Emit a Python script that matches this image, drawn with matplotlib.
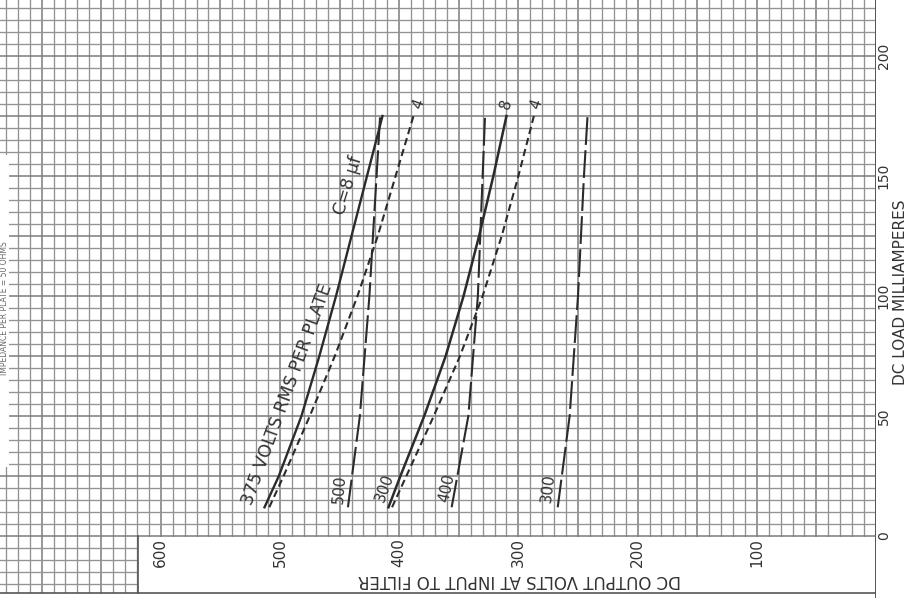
import matplotlib
matplotlib.use("Agg")
import matplotlib.pyplot as plt
from matplotlib.patches import Rectangle

plt.rcParams["lines.scale_dashes"] = False

# load current, mA (capacitor input curves)
ma = [12, 25, 50, 75, 100, 125, 150, 175]
cap375_8uf = [513, 501, 482, 467, 453, 440, 427, 414]
cap375_4uf = [509, 497, 475, 454, 435, 418, 403, 388]
cap300_8uf = [409, 399, 379, 361, 346, 333, 321, 310]
cap300_4uf = [406, 394, 371, 349, 330, 314, 300, 287]

# choke input curves
ma_choke = [12, 50, 100, 150, 175]
choke500 = [443, 433, 425, 419, 416]
choke400 = [356, 342, 334, 330, 328]
choke300 = [267, 257, 250, 245, 242]

volt_ticks = [600, 500, 400, 300, 200, 100]
ma_ticks = [0, 50, 100, 150, 200]

ink = "#2b2b2b"
short = (0, (5.2, 3.0))
long_ = (0, (20, 3.8))

fig = plt.figure(figsize=(9.07, 5.98), dpi=100)
ax = fig.add_axes([0, 0, 876 / 907, 1])
ax.set_xlim(734.9, 0)
ax.set_ylim(-25.8, 223.3)
ax.set_axis_off()

# graph paper
for v in range(0, 740, 10):
    major = v % 50 == 0
    ax.axvline(v, color="#7c7c7c" if major else "#939393",
               lw=1.1 if major else 0.95, zorder=1)
for m in range(-25, 225, 5):
    major = m % 25 == 0
    ax.axhline(m, color="#7c7c7c" if major else "#939393",
               lw=1.1 if major else 0.95, zorder=1)

# label box at the bottom and blank margins
box_left = (876 - 138) / 1.192
ax.add_patch(Rectangle((0, -30), box_left, 29.7, facecolor="white",
                       edgecolor="none", zorder=2))
ax.add_patch(Rectangle((0, -30), 740, 30 - 23.75, facecolor="white",
                       edgecolor="none", zorder=2))
ax.plot([box_left, box_left], [-23.75, 0], color="#555555", lw=1.2, zorder=3)
ax.plot([0, 740], [-23.75, -23.75], color="#555555", lw=1.2, zorder=3)
ax.axvline(0, color="#555555", lw=1.4, zorder=3)
ax.add_patch(Rectangle((727.3, 28.7), 10, 130, facecolor="white",
                       edgecolor="none", zorder=2))
ax.text(731.5, 95, "IMPEDANCE PER PLATE = 50 OHMS", rotation=90,
        ha="center", va="center", fontsize=5.5, color="#666666", zorder=3)

# curves
ax.plot(cap375_8uf, ma, color=ink, lw=1.7, zorder=4)
ax.plot(cap375_4uf, ma, color=ink, lw=1.5, ls=short, zorder=4)
ax.plot(cap300_8uf, ma, color=ink, lw=1.8, zorder=4)
ax.plot(cap300_4uf, ma, color=ink, lw=1.5, ls=short, zorder=4)
ax.plot(choke500, ma_choke, color=ink, lw=1.5, ls=long_, zorder=4)
ax.plot(choke400, ma_choke, color=ink, lw=1.5, ls=long_, zorder=4)
ax.plot(choke300, ma_choke, color=ink, lw=1.5, ls=long_, zorder=4)

tk = dict(color="#333333", zorder=5)
ax.text(520, 12, "375 VOLTS RMS PER PLATE", rotation=70, rotation_mode="anchor",
        ha="left", va="bottom", fontsize=12.5, **tk)
ax.text(443, 133, "C=8 µf", rotation=73, rotation_mode="anchor",
        ha="left", va="bottom", fontsize=12.5, **tk)
ax.text(384, 180, "4", rotation=70, ha="center", va="center", fontsize=11, **tk)
ax.text(310, 180, "8", rotation=72, ha="center", va="center", fontsize=11, **tk)
ax.text(285, 180, "4", rotation=72, ha="center", va="center", fontsize=11, **tk)
ax.text(450, 19.5, "500", rotation=85, ha="center", va="center", fontsize=11, **tk)
ax.text(412, 20, "300", rotation=70, ha="center", va="center", fontsize=11, **tk)
ax.text(360, 20, "400", rotation=78, ha="center", va="center", fontsize=11, **tk)
ax.text(275, 20, "300", rotation=83, ha="center", va="center", fontsize=11, **tk)

# axis labels
for v in volt_ticks:
    ax.text(v, -6.7, str(v), rotation=90, ha="center", va="center",
            fontsize=11, **tk)
ax.text(299.5, -18.3, "DC OUTPUT VOLTS AT INPUT TO FILTER", rotation=180,
        ha="center", va="center", fontsize=12, **tk)
for m in ma_ticks:
    ax.text(-6.4, m, str(m), rotation=90, ha="center", va="center",
            fontsize=10, clip_on=False, **tk)
ax.text(-20.8, 101.7, "DC LOAD MILLIAMPERES", rotation=90, ha="center",
        va="center", fontsize=11, clip_on=False, **tk)

fig.savefig("out.png", dpi=100, facecolor="white")
